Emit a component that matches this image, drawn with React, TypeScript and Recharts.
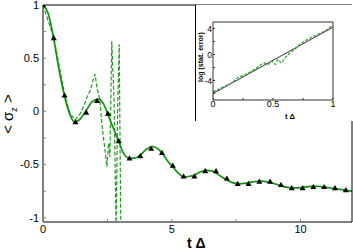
import { ComposedChart, LineChart, Line, Scatter, XAxis, YAxis } from "recharts";

const FONT = "'Liberation Sans', Arial, sans-serif";

// smooth exact curve
const solidT = [0, 0.2, 0.42, 0.6, 0.84, 1.0, 1.23, 1.45, 1.68, 1.9, 2.15, 2.35, 2.52, 2.7, 2.94, 3.1, 3.36, 3.55, 3.78, 4.0, 4.25, 4.45, 4.62, 4.85, 5.04, 5.25, 5.5, 5.7, 5.88, 6.1, 6.35, 6.55, 6.72, 6.9, 7.1, 7.35, 7.6, 7.9, 8.2, 8.5, 8.75, 9.0, 9.25, 9.5, 9.8, 10.1, 10.4, 10.7, 11.0, 11.3, 11.6, 12];
const solidV = [1, 0.92, 0.68, 0.42, 0.14, 0.0, -0.1, -0.07, 0.01, 0.09, 0.115, 0.07, -0.03, -0.14, -0.28, -0.38, -0.44, -0.44, -0.41, -0.36, -0.33, -0.35, -0.39, -0.47, -0.52, -0.58, -0.615, -0.61, -0.6, -0.57, -0.555, -0.56, -0.58, -0.61, -0.64, -0.67, -0.68, -0.675, -0.66, -0.655, -0.665, -0.68, -0.7, -0.715, -0.72, -0.715, -0.705, -0.705, -0.715, -0.725, -0.735, -0.75];

// triangles
const triT = [0, 0.42, 0.84, 1.26, 1.68, 2.1, 2.52, 2.94, 3.36, 3.78, 4.2, 4.62, 5.04, 5.46, 5.88, 6.3, 6.72, 7.14, 7.56, 7.98, 8.4, 8.82, 9.24, 9.66, 10.08, 10.5, 10.92, 11.34, 11.76];
const triV = [1, 0.69, 0.15, -0.1, -0.01, 0.1, -0.02, -0.28, -0.44, -0.42, -0.35, -0.39, -0.51, -0.61, -0.61, -0.56, -0.56, -0.63, -0.68, -0.68, -0.66, -0.66, -0.69, -0.72, -0.72, -0.71, -0.71, -0.72, -0.74];

// noisy dashed run
const dashT = [0, 0.42, 0.84, 1.05, 1.25, 1.45, 1.6, 1.75, 1.85, 1.95, 2.02, 2.1, 2.2, 2.3, 2.4, 2.48, 2.55, 2.6, 2.67, 2.76, 2.84, 2.9, 2.96, 3.02];
const dashV = [1, 0.69, 0.16, -0.02, -0.08, -0.02, 0.06, 0.16, 0.2, 0.3, 0.35, 0.22, 0.12, -0.15, -0.35, -0.52, -0.3, -0.43, 0.66, 0.1, -1.1, 0.05, 0.63, -1.1];

const xTicks = [0, 2.5, 5, 7.5, 10];
const yTicks = [-1, -0.75, -0.5, -0.25, 0, 0.25, 0.5, 0.75, 1];

// inset
const insetT = [0, 0.075, 0.16, 0.2, 0.27, 0.32, 0.4, 0.43, 0.46, 0.49, 0.52, 0.54, 0.57, 0.6, 0.64, 0.68, 0.72, 0.76, 0.82, 0.87, 0.93, 0.97, 1.0];
const insetV = [-5.75, -5.1, -4.35, -3.6, -3.1, -2.6, -1.55, -1.3, -1.55, -1.0, -1.55, -0.8, -1.3, -0.5, 0.25, 0.75, 1.5, 2.05, 2.65, 3.05, 3.6, 4.1, 4.5];
const fitT = [0, 1];
const fitV = [-6, 4.2];
const insetXTicks = [0, 0.25, 0.5, 0.75, 1];
const insetYTicks = [-6, -4, -2, 0, 2, 4];

const zip = (t: number[], v: number[]) => t.map((x, i) => ({ t: x, v: v[i] }));

const solidData = zip(solidT, solidV);
const triData = zip(triT, triV);
const dashData = zip(dashT, dashV);
const insetData = zip(insetT, insetV);
const fitData = zip(fitT, fitV);

const Triangle = (props: any) => {
  const { cx, cy } = props;
  if (cx == null || cy == null) return null;
  return <polygon points={`${cx},${cy - 3} ${cx - 3},${cy + 2.2} ${cx + 3},${cy + 2.2}`} fill="#000" />;
};

const mainTick = { fill: "#000", fontSize: 11, fontFamily: FONT };
const fmtMainY = (v: number) => (Math.abs(v * 2 - Math.round(v * 2)) < 1e-6 ? String(v) : "");
const fmtMainX = (v: number) => (v % 5 === 0 ? String(v) : "");
const fmtInsetY = (v: number) => (v === 4 || v === 0 || v === -4 ? String(v) : "");

export default function App() {
  return (
    <div style={{ position: "absolute", left: 0, top: 0, width: 353, height: 251, background: "#fff" }}>
      <ComposedChart width={353} height={251} margin={{ top: 4, right: 0, bottom: 0, left: 0 }}>
        <XAxis
          dataKey="t"
          type="number"
          domain={[0, 12]}
          ticks={xTicks}
          tickFormatter={fmtMainX}
          allowDataOverflow
          height={29}
          axisLine={{ stroke: "#808080", strokeWidth: 2 }}
          tickLine={{ stroke: "#808080" }}
          tickSize={-3}
          tickMargin={6}
          tick={mainTick}
        />
        <XAxis xAxisId="top" orientation="top" type="number" domain={[0, 12]} height={1} tick={false} tickLine={false} axisLine={{ stroke: "#000" }} />
        <YAxis
          type="number"
          domain={[-1.04, 1]}
          ticks={yTicks}
          tickFormatter={fmtMainY}
          allowDataOverflow
          width={43}
          axisLine={{ stroke: "#808080", strokeWidth: 2 }}
          tickLine={{ stroke: "#808080" }}
          tickSize={-3}
          tickMargin={7}
          tick={mainTick}
          interval={0}
        />
        <YAxis yAxisId="right" orientation="right" type="number" domain={[-1.04, 1]} ticks={yTicks} width={1} tick={false} tickSize={-3} tickLine={{ stroke: "#808080" }} axisLine={{ stroke: "#000" }} />
        <Line data={dashData} dataKey="v" type="linear" stroke="#1f9a1f" strokeWidth={1.2} strokeDasharray="4 2" dot={false} isAnimationActive={false} />
        <Line data={solidData} dataKey="v" type="monotone" stroke="#119311" strokeWidth={1.7} dot={false} isAnimationActive={false} />
        <Scatter data={triData} dataKey="v" shape={Triangle} isAnimationActive={false} />
      </ComposedChart>

      <div style={{ position: "absolute", left: 187, top: 236, fontFamily: FONT, fontWeight: "bold", fontSize: 14, lineHeight: "14px" }}>t Δ</div>
      <div
        style={{
          position: "absolute",
          left: 9,
          top: 114,
          transform: "translate(-50%, -50%) rotate(-90deg)",
          fontFamily: FONT,
          fontSize: 15,
          whiteSpace: "nowrap",
          lineHeight: "15px",
        }}
      >
        &lt; σ<sub style={{ fontSize: 9, lineHeight: "9px" }}>z</sub> &gt;
      </div>

      <div style={{ position: "absolute", left: 195, top: 5, width: 157, height: 116, background: "#fff", borderLeft: "1px solid #000" }}>
        <LineChart width={156} height={116} margin={{ top: 16, right: 18, bottom: 0, left: 0 }}>
          <XAxis
            dataKey="t"
            type="number"
            domain={[0, 1]}
            ticks={insetXTicks}
            tickFormatter={(v: number) => (v === 0.25 || v === 0.75 ? "" : String(v))}
            height={21}
            axisLine={{ stroke: "#333" }}
            tickLine={{ stroke: "#333" }}
            tickSize={-2}
            tickMargin={3}
            tick={{ fill: "#000", fontSize: 9, fontFamily: FONT }}
            interval={0}
          />
          <XAxis xAxisId="top" orientation="top" type="number" domain={[0, 1]} height={1} tick={false} tickLine={false} axisLine={{ stroke: "#333" }} />
          <YAxis
            type="number"
            domain={[-7, 5]}
            ticks={insetYTicks}
            tickFormatter={fmtInsetY}
            width={17}
            axisLine={{ stroke: "#333" }}
            tickLine={{ stroke: "#333" }}
            tickSize={-2}
            tickMargin={3}
            tick={{ fill: "#000", fontSize: 8.5, fontFamily: FONT }}
            interval={0}
          />
          <YAxis yAxisId="right" orientation="right" type="number" domain={[-7, 5]} width={1} tick={false} tickLine={false} axisLine={{ stroke: "#333" }} />
          <Line data={fitData} dataKey="v" type="linear" stroke="#333" strokeWidth={1} dot={false} isAnimationActive={false} />
          <Line data={insetData} dataKey="v" type="linear" stroke="#2ca02c" strokeWidth={1.2} strokeDasharray="3 1.5" dot={false} isAnimationActive={false} />
        </LineChart>
        <div style={{ position: "absolute", left: 89, top: 108, fontFamily: FONT, fontSize: 7.5, fontWeight: "bold", lineHeight: "8px" }}>t Δ</div>
        <div
          style={{
            position: "absolute",
            left: 4,
            top: 52,
            transform: "translate(-50%, -50%) rotate(-90deg)",
            fontFamily: FONT,
            fontSize: 7,
            fontWeight: "bold",
            whiteSpace: "nowrap",
            lineHeight: "7px",
          }}
        >
          log (stat. error)
        </div>
      </div>
    </div>
  );
}
